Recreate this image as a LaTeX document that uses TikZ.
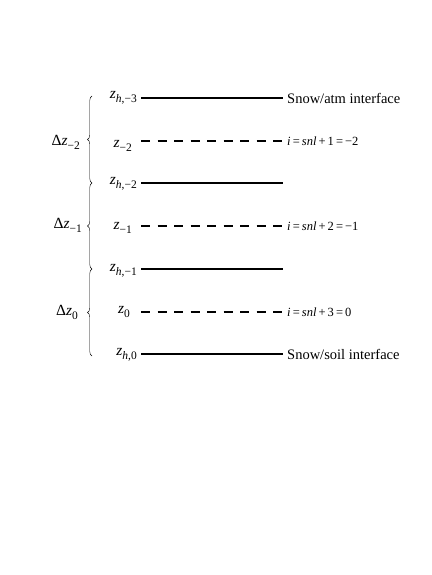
\documentclass[tikz,border=0pt]{standalone}
\usepackage{fontspec}
\setmainfont{Liberation Serif}
\usetikzlibrary{positioning}
\usetikzlibrary{calc}
\usetikzlibrary{decorations.pathreplacing}

% italic symbol with a lowered subscript
\newcommand{\zsub}[2]{\textit{#1}\raisebox{-4pt}{\fontsize{11.5}{12}\selectfont #2}}

\begin{document}
\begin{tikzpicture}[
    x=1pt, y=-1pt,                      % pixel-like units, top-to-bottom
    font=\fontsize{14.5}{17}\selectfont,
    ]
% -------------------------------------------------
\tikzset{
  level/.style={line width=2.8pt},
  midlevel/.style={level, dash pattern=on 9pt off 7.5pt},
  zlab/.style={inner sep=1pt, anchor=base east, font=\fontsize{15.5}{17}\selectfont},
  ilab/.style={inner sep=1pt, font=\fontsize{12.5}{14}\selectfont},
  tlab/.style={inner sep=1pt},
  brc/.style={decorate, decoration={brace, amplitude=4.5pt, mirror}, thin}
}
\useasboundingbox (0,0) rectangle (431,575);

% layer boundaries and nodes
\coordinate (hthreew) at (141,98);  \coordinate (hthreee) at (283,98);
\coordinate (mtwow)   at (141,141); \coordinate (mtwoe)   at (283,141);
\coordinate (htwow)   at (141,183); \coordinate (htwoe)   at (283,183);
\coordinate (monew)   at (141,226); \coordinate (monee)   at (283,226);
\coordinate (honew)   at (141,269); \coordinate (honee)   at (283,269);
\coordinate (mzerow)  at (141,312); \coordinate (mzeroe)  at (283,312);
\coordinate (hzerow)  at (141,354); \coordinate (hzeroe)  at (283,354);

\draw [level]    (hthreew) -- (hthreee);
\draw [midlevel] (mtwow) -- (mtwoe);
\draw [level]    (htwow) -- (htwoe);
\draw [midlevel] (monew) -- (monee);
\draw [level]    (honew) -- (honee);
\draw [midlevel] (mzerow) -- (mzeroe);
\draw [level]    (hzerow) -- (hzeroe);

% left labels
\node [left=3pt of hthreew, zlab, yshift=-1pt] (zhthree) {\zsub{z}{\textit{h},−3}};
\node [left=8pt of mtwow, zlab, yshift=-6pt]   (ztwo)    {\zsub{z}{−2}};
\node [left=3pt of htwow, zlab, yshift=-1pt]   (zhtwo)   {\zsub{z}{\textit{h},−2}};
\node [left=8pt of monew, zlab, yshift=-3pt]   (zone)    {\zsub{z}{−1}};
\node [left=3pt of honew, zlab, yshift=-2pt]   (zhone)   {\zsub{z}{\textit{h},−1}};
\node [left=10pt of mzerow, zlab, yshift=-1pt] (zzero)   {\zsub{z}{0}};
\node [left=3pt of hzerow, zlab, yshift=-1pt]  (zhzero)  {\zsub{z}{\textit{h},0}};

% right labels
\node [tlab, right=3pt of hthreee] (atm)  {Snow/atm interface};
\node [ilab, right=3pt of mtwoe]   (itwo) {\textit{i}\,=\,\textit{snl}\,+\,1\,=\,−2};
\node [ilab, right=3pt of monee]   (ione) {\textit{i}\,=\,\textit{snl}\,+\,2\,=\,−1};
\node [ilab, right=3pt of mzeroe]  (izero) {\textit{i}\,=\,\textit{snl}\,+\,3\,=\,0};
\node [tlab, right=3pt of hzeroe]  (soil) {Snow/soil interface};

% layer thickness braces
\coordinate (bthree) at (92,96);
\coordinate (btwo)   at (92,183);
\coordinate (bone)   at (92,269);
\coordinate (bzero)  at (92,356);
\draw [brc] (bthree) -- (btwo);
\draw [brc] (btwo) -- (bone);
\draw [brc] (bone) -- (bzero);

\node [zlab] (dztwo)  at (81,146) {Δ\zsub{z}{−2}};
\node [zlab] (dzone)  at (83,228) {Δ\zsub{z}{−1}};
\node [zlab] (dzzero) at (79,315) {Δ\zsub{z}{0}};

\end{tikzpicture}
\end{document}
